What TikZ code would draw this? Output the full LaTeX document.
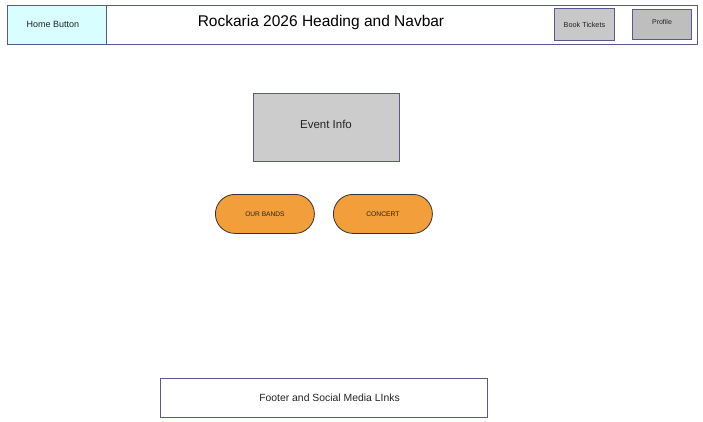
\documentclass[tikz,border=0pt]{standalone}
\usepackage{fontspec}
\setmainfont{Liberation Sans}
\definecolor{edgeblue}{HTML}{5A5890}
\definecolor{homecyan}{HTML}{D8FEFF}
\definecolor{btngray}{HTML}{C8C8C8}
\definecolor{infogray}{HTML}{CCCCCC}
\definecolor{bandorange}{HTML}{F29E3A}
\definecolor{txtgray}{HTML}{222222}
\begin{document}
\begin{tikzpicture}[x=1pt,y=-1pt,
  box/.style={draw=edgeblue,line width=0.9pt,inner sep=0pt,text=txtgray},
  lbl/.style={text=txtgray,inner sep=0pt},
  pill/.style={draw=black!80,line width=0.8pt,fill=bandorange,rounded corners=19.5pt,inner sep=0pt,text=txtgray}]
\useasboundingbox (0,0) rectangle (703,422);
% navbar
\node[box,minimum width=690pt,minimum height=39pt,anchor=north west] (nav) at (7,5) {};
\node[box,fill=homecyan,minimum width=99pt,minimum height=39pt,anchor=north west] (home) at (7,5) {};
\node[lbl,font=\fontsize{9}{10}\selectfont] (homet) at (53,24.5) {Home Button};
\node[lbl,text=black,font=\fontsize{15.5}{18}\selectfont] (head) at (321,22.5) {Rockaria 2026 Heading and Navbar};
\node[box,fill=btngray,minimum width=60pt,minimum height=32pt,anchor=north west,font=\fontsize{7.3}{8}\selectfont] (book) at (554,8) {Book Tickets};
\node[box,fill=btngray!95!black,minimum width=59pt,minimum height=30pt,anchor=north west] (prof) at (632,9) {};
\node[lbl,font=\fontsize{7}{8}\selectfont] (proft) at (662,22.5) {Profile};
% event info
\node[box,fill=infogray,minimum width=146pt,minimum height=68pt,anchor=north west] (event) at (253,93) {};
\node[lbl,font=\fontsize{11.5}{13}\selectfont] (eventt) at (326,124.5) {Event Info};
% buttons
\node[pill,minimum width=99pt,minimum height=39pt,anchor=north west,font=\fontsize{6.6}{7}\selectfont] (bands) at (215,194) {OUR BANDS};
\node[pill,minimum width=99pt,minimum height=39pt,anchor=north west,font=\fontsize{6.7}{7}\selectfont] (concert) at (333,194) {CONCERT};
% footer
\node[box,minimum width=327pt,minimum height=39pt,anchor=north west] (footer) at (160,378) {};
\node[lbl,font=\fontsize{10.4}{12}\selectfont] (footert) at (329.5,398) {Footer and Social Media LInks};
\end{tikzpicture}
\end{document}
